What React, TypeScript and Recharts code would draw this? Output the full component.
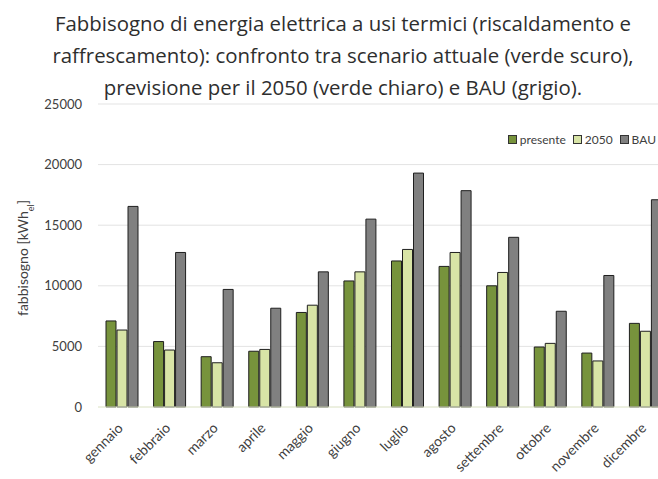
import { BarChart, Bar, XAxis, YAxis, CartesianGrid } from 'recharts';

const months = ['gennaio', 'febbraio', 'marzo', 'aprile', 'maggio', 'giugno', 'luglio', 'agosto', 'settembre', 'ottobre', 'novembre', 'dicembre'];
const presente = [7100, 5400, 4150, 4600, 7800, 10400, 12050, 11600, 10000, 4950, 4450, 6900];
const futuro2050 = [6350, 4700, 3650, 4750, 8400, 11150, 13000, 12750, 11100, 5250, 3800, 6250];
const bau = [16550, 12750, 9700, 8150, 11150, 15500, 19300, 17850, 14000, 7900, 10850, 17100];
const yTicks = [0, 5000, 10000, 15000, 20000, 25000];

const data = months.map((m, i) => ({
  mese: m,
  presente: presente[i],
  y2050: futuro2050[i],
  bau: bau[i],
}));

const FONT = 'Lato, "Open Sans", sans-serif';

// etichette dei mesi ruotate di 45 gradi, come in Excel
const MonthTick = (props: any) => {
  const { x, y, payload } = props;
  const ax = x + 2;
  const ay = y + 14;
  return (
    <text
      x={ax}
      y={ay}
      textAnchor="end"
      fontSize={14}
      fontFamily={FONT}
      fill="#404040"
      transform={`rotate(-45, ${ax}, ${ay})`}
    >
      {payload.value}
    </text>
  );
};

const legendItems = [
  { label: 'presente', color: '#77933c' },
  { label: '2050', color: '#d8e4a6' },
  { label: 'BAU', color: '#808080' },
];

export default function App() {
  return (
    <div style={{ position: 'absolute', left: 0, top: 0, width: 658, height: 479, overflow: 'hidden', background: '#fff' }}>
      <div
        style={{
          position: 'absolute',
          left: 0,
          top: 7,
          width: 686,
          textAlign: 'center',
          fontFamily: '"Open Sans", sans-serif',
          fontSize: 20.4,
          lineHeight: '32px',
          color: '#2e2e2e',
          whiteSpace: 'nowrap',
        }}
      >
        Fabbisogno di energia elettrica a usi termici (riscaldamento e
        <br />
        raffrescamento): confronto tra scenario attuale (verde scuro),
        <br />
        previsione per il 2050 (verde chiaro) e BAU (grigio).
      </div>
      <svg style={{ position: 'absolute', left: 0, top: 0 }} width={60} height={479}>
        <text
          transform="translate(28, 258) rotate(-90)"
          textAnchor="middle"
          fontSize={14}
          fontFamily={FONT}
          fill="#404040"
        >
          fabbisogno [kWh
          <tspan fontSize={9} baselineShift="sub">el</tspan>
          ]
        </text>
      </svg>
      <div style={{ position: 'absolute', left: 0, top: 0 }}>
        <BarChart
          width={672}
          height={479}
          data={data}
          margin={{ top: 104, right: 3, bottom: 0, left: 38 }}
          barGap={1}
          barSize={10}
        >
          <CartesianGrid vertical={false} stroke="#e3e3e3" />
          <XAxis
            dataKey="mese"
            interval={0}
            tick={<MonthTick />}
            tickLine={false}
            axisLine={{ stroke: '#e8efd0' }}
            height={72}
          />
          <YAxis
            width={60}
            domain={[0, 25000]}
            ticks={yTicks}
            tickLine={false}
            axisLine={false}
            tickMargin={10}
            tick={{ fontSize: 13, fontFamily: FONT, fill: '#404040' }}
          />
          <Bar dataKey="presente" fill="#77933c" stroke="#1f1f1f" strokeWidth={1} isAnimationActive={false} />
          <Bar dataKey="y2050" fill="#d8e4a6" stroke="#1f1f1f" strokeWidth={1} isAnimationActive={false} />
          <Bar dataKey="bau" fill="#808080" stroke="#1f1f1f" strokeWidth={1} isAnimationActive={false} />
        </BarChart>
      </div>
      {/* legenda in alto a destra */}
      <div
        style={{
          position: 'absolute',
          top: 132,
          right: 2,
          display: 'flex',
          fontFamily: FONT,
          fontSize: 12,
          color: '#404040',
          whiteSpace: 'nowrap',
        }}
      >
        {legendItems.map((it, i) => (
          <span key={it.label} style={{ display: 'flex', alignItems: 'center', marginLeft: i === 0 ? 0 : 7 }}>
            <span
              style={{
                display: 'inline-block',
                width: 7,
                height: 7,
                background: it.color,
                border: '1px solid #333',
                marginRight: 3,
              }}
            />
            {it.label}
          </span>
        ))}
      </div>
    </div>
  );
}
